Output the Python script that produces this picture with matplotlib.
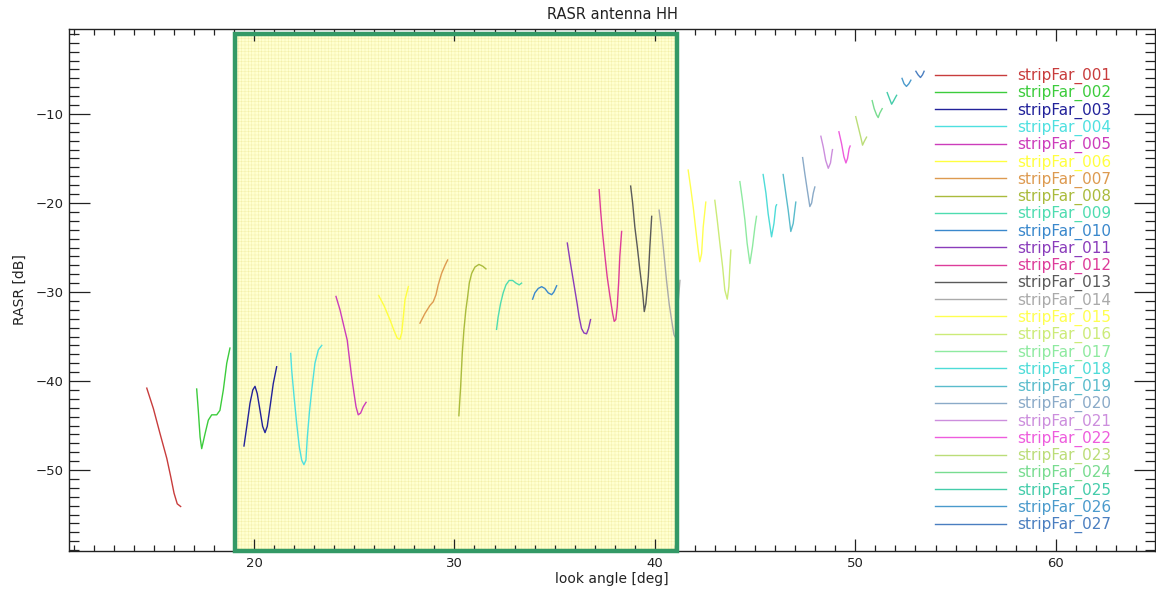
import numpy as np
import matplotlib
matplotlib.use('Agg')
import matplotlib.pyplot as plt
from matplotlib.patches import Rectangle
from matplotlib.ticker import MultipleLocator

# --- data (look angle [deg], RASR [dB]) ---
strip_names = ['stripFar_%03d' % i for i in range(1, 28)]

strip_colors = ['#c83c3c', '#3ccc3c', '#22229a', '#4ee0e0', '#cc3cbb', '#ffff40',
                '#dd9a50', '#aabb3c', '#4edcb0', '#3a88cc', '#8a3cbb', '#dd3c9a',
                '#5a5a5a', '#aaaaaa', '#ffff50', '#cceb78', '#8eeaa0', '#4edcd8',
                '#5abccc', '#8aaac8', '#cc8edd', '#ee5cdd', '#bbdd78', '#78dc90',
                '#44ccaa', '#4a9acc', '#4a7ec0']

look_angle = [
    [14.65, 14.98, 15.31, 15.65, 15.85, 16.01, 16.17, 16.34],
    [17.14, 17.22, 17.31, 17.39, 17.56, 17.72, 17.89, 18.14, 18.30, 18.47, 18.64, 18.80],
    [19.50, 19.64, 19.80, 19.94, 20.05, 20.16, 20.30, 20.43, 20.55, 20.66, 20.80, 20.96, 21.13],
    [21.83, 21.88, 22.00, 22.13, 22.26, 22.38, 22.49, 22.59, 22.66, 22.76, 22.88, 23.04, 23.21, 23.38],
    [24.09, 24.29, 24.49, 24.65, 24.75, 24.87, 24.99, 25.09, 25.20, 25.32, 25.45, 25.59],
    [26.22, 26.48, 26.78, 26.98, 27.15, 27.28, 27.37, 27.45, 27.53, 27.70],
    [28.28, 28.53, 28.78, 28.94, 29.08, 29.19, 29.36, 29.53, 29.66],
    [30.22, 30.31, 30.39, 30.47, 30.57, 30.66, 30.74, 30.86, 31.02, 31.22, 31.41, 31.57],
    [32.10, 32.18, 32.30, 32.43, 32.57, 32.73, 32.90, 33.07, 33.23, 33.35],
    [33.90, 34.01, 34.18, 34.35, 34.51, 34.68, 34.85, 34.96, 35.10],
    [35.63, 35.76, 35.90, 36.01, 36.12, 36.22, 36.34, 36.46, 36.59, 36.69, 36.79],
    [37.22, 37.29, 37.39, 37.51, 37.62, 37.76, 37.89, 37.97, 38.05, 38.12, 38.19, 38.25, 38.34],
    [38.79, 38.89, 39.00, 39.12, 39.25, 39.39, 39.47, 39.55, 39.67, 39.75, 39.84],
    [40.21, 40.33, 40.45, 40.58, 40.71, 40.83, 40.95, 41.05, 41.15, 41.25],
    [41.66, 41.78, 41.91, 42.04, 42.16, 42.24, 42.33, 42.41, 42.54],
    [42.99, 43.11, 43.24, 43.38, 43.49, 43.61, 43.69, 43.74, 43.79],
    [44.24, 44.37, 44.49, 44.60, 44.74, 44.87, 44.99, 45.07],
    [45.40, 45.54, 45.65, 45.82, 45.94, 46.03, 46.07],
    [46.40, 46.53, 46.65, 46.78, 46.90, 46.98, 47.03],
    [47.37, 47.48, 47.60, 47.73, 47.82, 47.90, 47.98],
    [48.28, 48.40, 48.52, 48.65, 48.76, 48.83, 48.86],
    [49.18, 49.31, 49.43, 49.53, 49.61, 49.69, 49.74],
    [50.02, 50.14, 50.27, 50.36, 50.44, 50.56],
    [50.84, 50.94, 51.06, 51.14, 51.22, 51.34],
    [51.59, 51.69, 51.81, 51.89, 52.01, 52.06],
    [52.33, 52.43, 52.55, 52.67, 52.77],
    [53.02, 53.13, 53.25, 53.35, 53.43],
]

rasr_db = [
    [-40.8, -43.1, -45.9, -48.7, -50.8, -52.6, -53.8, -54.1],
    [-40.9, -43.3, -46.3, -47.6, -45.9, -44.4, -43.8, -43.8, -43.3, -41.0, -38.0, -36.3],
    [-47.3, -45.1, -42.5, -41.0, -40.6, -41.4, -43.3, -45.1, -45.8, -45.1, -42.9, -40.3, -38.4],
    [-36.9, -38.8, -41.8, -44.8, -47.4, -48.9, -49.4, -48.9, -46.3, -43.6, -41.0, -38.0, -36.5, -36.0],
    [-30.5, -32.0, -33.9, -35.4, -37.3, -39.5, -41.4, -42.9, -43.8, -43.6, -42.9, -42.4],
    [-30.4, -31.5, -33.1, -34.3, -35.2, -35.3, -34.6, -32.8, -30.9, -29.4],
    [-33.5, -32.4, -31.5, -31.1, -30.3, -29.2, -27.9, -27.0, -26.4],
    [-43.9, -40.6, -36.9, -34.3, -32.0, -30.5, -29.0, -27.9, -27.2, -26.9, -27.1, -27.4],
    [-34.2, -32.8, -31.3, -30.1, -29.2, -28.7, -28.7, -29.0, -29.2, -29.0],
    [-30.8, -30.1, -29.6, -29.4, -29.6, -30.1, -30.3, -30.0, -29.3],
    [-24.5, -26.4, -28.3, -29.8, -31.3, -32.8, -34.1, -34.6, -34.7, -34.1, -33.1],
    [-18.5, -20.8, -23.4, -26.0, -28.3, -30.5, -32.4, -33.3, -33.1, -31.7, -29.0, -26.0, -23.2],
    [-18.1, -20.0, -22.7, -24.9, -27.5, -30.1, -32.2, -31.3, -28.3, -24.9, -21.5],
    [-20.8, -23.0, -25.7, -28.7, -31.3, -33.1, -34.8, -35.2, -31.5, -28.7],
    [-16.3, -18.2, -20.4, -23.0, -25.3, -26.6, -25.7, -22.7, -19.9],
    [-19.7, -21.9, -24.5, -27.2, -29.8, -30.8, -29.4, -27.2, -25.3],
    [-17.6, -19.7, -21.9, -24.5, -26.8, -24.9, -22.7, -21.5],
    [-16.8, -18.9, -21.2, -23.8, -22.3, -20.4, -20.2],
    [-16.8, -18.9, -20.8, -23.2, -22.3, -20.8, -19.9],
    [-14.9, -16.7, -18.5, -20.4, -20.0, -18.9, -18.2],
    [-12.5, -13.7, -15.2, -16.1, -15.5, -14.4, -14.0],
    [-12.0, -13.3, -14.8, -15.5, -15.0, -13.9, -13.6],
    [-10.3, -11.4, -12.6, -13.5, -13.1, -12.6],
    [-8.5, -9.4, -10.1, -10.4, -9.9, -9.4],
    [-7.6, -8.2, -8.9, -8.6, -8.1, -7.9],
    [-6.0, -6.6, -6.9, -6.6, -6.2],
    [-5.2, -5.6, -5.9, -5.6, -5.2],
]

# highlighted look-angle window
box_angle = [19.05, 41.1]
box_db = [-59.1, -1.05]

# --- plot ---
W, H = 1156, 597
fig = plt.figure(figsize=(W / 100, H / 100), dpi=100)
ax = fig.add_axes([69 / W, 1 - 551 / H, (1155 - 69) / W, (551 - 29) / H])

plt.rcParams['hatch.linewidth'] = 0.35
ax.add_patch(Rectangle((box_angle[0], box_db[0]), box_angle[1] - box_angle[0], box_db[1] - box_db[0],
                       facecolor='#ffffd0', edgecolor='#f3efaa', hatch='+++++', linewidth=0, zorder=0.5))

for i in range(len(strip_names)):
    ax.plot(look_angle[i], rasr_db[i], color=strip_colors[i], lw=1.0, label=strip_names[i], zorder=2)

ax.add_patch(Rectangle((box_angle[0], box_db[0]), box_angle[1] - box_angle[0], box_db[1] - box_db[0],
                       fill=False, edgecolor='#339966', linewidth=3.2, zorder=3, clip_on=False))

ax.set_xlim(10.77, 64.95)
ax.set_ylim(-59.1, -0.45)
ax.xaxis.set_major_locator(MultipleLocator(10))
ax.xaxis.set_minor_locator(MultipleLocator(1))
ax.yaxis.set_major_locator(MultipleLocator(10))
ax.yaxis.set_minor_locator(MultipleLocator(1))
ax.tick_params(which='both', direction='in', top=True, right=True, colors='#222222', labelsize=9.5)
ax.tick_params(axis='x', which='major', length=8.5, width=0.9, pad=4)
ax.tick_params(axis='x', which='minor', length=4, width=0.9)
ax.tick_params(axis='y', which='major', length=15, width=0.9, pad=4)
ax.tick_params(axis='y', which='minor', length=7.5, width=0.9)
for sp in ax.spines.values():
    sp.set_color('#222222')
    sp.set_linewidth(1.0)

ax.set_title('RASR antenna HH', fontsize=10.5, pad=7, color='#222222')
ax.set_xlabel('look angle [deg]', fontsize=10, color='#222222', labelpad=2)
ax.set_ylabel('RASR [dB]', fontsize=10, color='#222222', labelpad=6)

ax.legend(loc='upper left', bbox_to_anchor=(935 / W, 1 - 68 / H), bbox_transform=fig.transFigure,
          frameon=False, fontsize=11, handlelength=4.65, handletextpad=0.72, labelspacing=0.07,
          borderpad=0, borderaxespad=0, labelcolor='linecolor')

fig.savefig('out.png', dpi=100)
